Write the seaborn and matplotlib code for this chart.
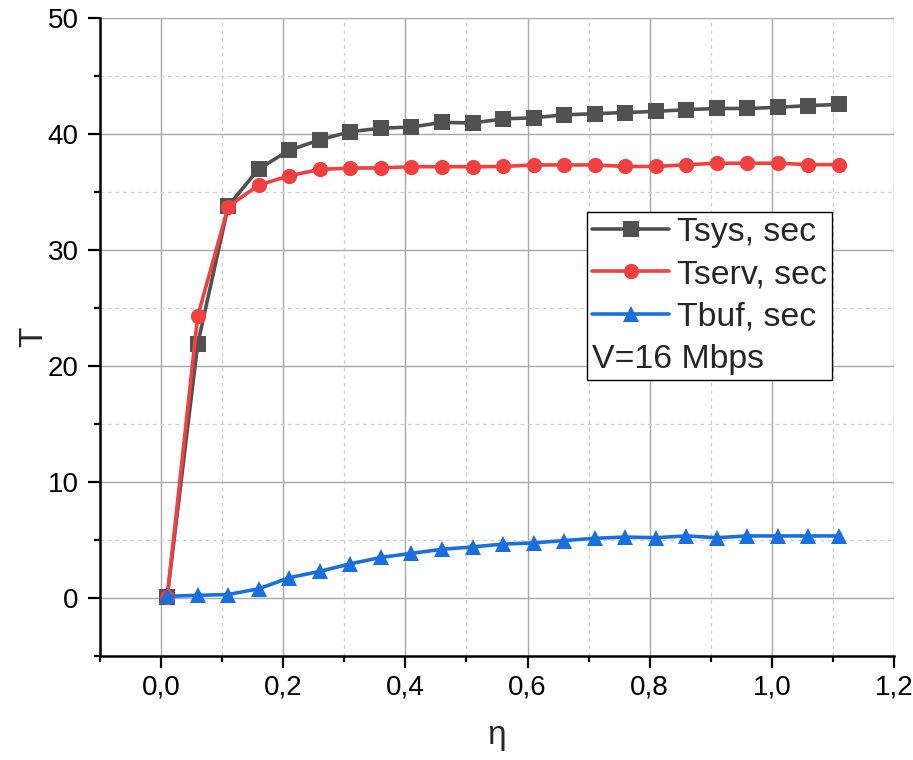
import numpy as np
import pandas as pd
import matplotlib
matplotlib.use("Agg")
import matplotlib.pyplot as plt
import seaborn as sns
from matplotlib.ticker import MultipleLocator, FuncFormatter
from matplotlib.lines import Line2D

eta = [0.01, 0.06, 0.11, 0.16, 0.21, 0.26, 0.31, 0.36, 0.41, 0.46, 0.51, 0.56,
       0.61, 0.66, 0.71, 0.76, 0.81, 0.86, 0.91, 0.96, 1.01, 1.06, 1.11]
t_sys = [0.1, 21.9, 33.8, 37.0, 38.6, 39.5, 40.2, 40.5, 40.6, 41.0, 40.95, 41.3,
         41.4, 41.65, 41.75, 41.85, 41.95, 42.1, 42.2, 42.2, 42.3, 42.45, 42.55]
t_serv = [0.05, 24.3, 33.75, 35.6, 36.4, 36.95, 37.06, 37.08, 37.18, 37.18, 37.18, 37.2,
          37.33, 37.33, 37.33, 37.2, 37.2, 37.35, 37.48, 37.48, 37.48, 37.36, 37.36]
t_buf = [0.15, 0.23, 0.3, 0.8, 1.75, 2.3, 2.95, 3.5, 3.85, 4.2, 4.4, 4.65,
         4.75, 4.95, 5.15, 5.25, 5.2, 5.35, 5.2, 5.35, 5.35, 5.35, 5.35]
series_names = ["Tsys, sec", "Tserv, sec", "Tbuf, sec"]
note_text = "V=16 Mbps"
x_ticks = [0.0, 0.2, 0.4, 0.6, 0.8, 1.0, 1.2]
y_ticks = [0, 10, 20, 30, 40, 50]

df = pd.concat([
    pd.DataFrame({"eta": eta, "T": vals, "series": name})
    for name, vals in zip(series_names, [t_sys, t_serv, t_buf])
], ignore_index=True)

sns.set_theme(style="ticks")
plt.rcParams["font.family"] = ["Liberation Sans", "DejaVu Sans"]

fig = plt.figure(figsize=(9.13, 7.6), dpi=100)
ax = fig.add_axes([100 / 913, 1 - 656 / 760, 794 / 913, 638 / 760])

palette = {"Tsys, sec": "#515151", "Tserv, sec": "#F14040", "Tbuf, sec": "#1A6FDF"}
markers = {"Tsys, sec": "s", "Tserv, sec": "o", "Tbuf, sec": "^"}
sns.lineplot(data=df, x="eta", y="T", hue="series", style="series",
             palette=palette, markers=markers, dashes=False, sort=False,
             linewidth=2.6, markersize=11, markeredgewidth=0, ax=ax, zorder=3)

ax.set_xlim(-0.1, 1.2)
ax.set_ylim(-5, 50)
ax.set_xticks(x_ticks)
ax.set_yticks(y_ticks)
ax.xaxis.set_minor_locator(MultipleLocator(0.1))
ax.yaxis.set_minor_locator(MultipleLocator(5))
ax.xaxis.set_major_formatter(FuncFormatter(lambda v, p: f"{v:.1f}".replace(".", ",")))
ax.yaxis.set_major_formatter(FuncFormatter(lambda v, p: f"{v:.0f}"))

ax.grid(which="major", color="#a8a8a8", linewidth=1.0, linestyle="-")
ax.grid(which="minor", color="#cfcfcf", linewidth=0.9, linestyle=(0, (3, 3)))
ax.set_axisbelow(True)

for s in ["top", "right"]:
    ax.spines[s].set_visible(False)
for s in ["left", "bottom"]:
    ax.spines[s].set_linewidth(1.8)
    ax.spines[s].set_color("black")

ax.tick_params(which="major", direction="out", length=8.5, width=1.6,
               labelsize=20, colors="black", pad=5)
ax.tick_params(which="minor", direction="out", length=4, width=1.6, colors="black")
ax.tick_params(axis="y", which="major", pad=7)

ax.set_xlabel("η", fontsize=24, labelpad=14)
ax.set_ylabel("T", fontsize=24, labelpad=-1)

handles, labels = ax.get_legend_handles_labels()
dummy = Line2D([], [], alpha=0)
leg = ax.legend(handles + [dummy], labels + [note_text], loc="upper left",
                bbox_to_anchor=((587 - 100) / 794, (656 - 212) / 638),
                fontsize=24.4, frameon=True, fancybox=False, edgecolor="black",
                framealpha=1, borderpad=0.15, labelspacing=0.33,
                handlelength=2.27, handletextpad=0.25, borderaxespad=0)
leg.get_frame().set_linewidth(1.0)
# remove handle for note row so text is left-aligned
col = leg._legend_handle_box.get_children()[0]
row = col.get_children()[3]
row._children = [row._children[1]]

fig.savefig("out.png", dpi=100)
